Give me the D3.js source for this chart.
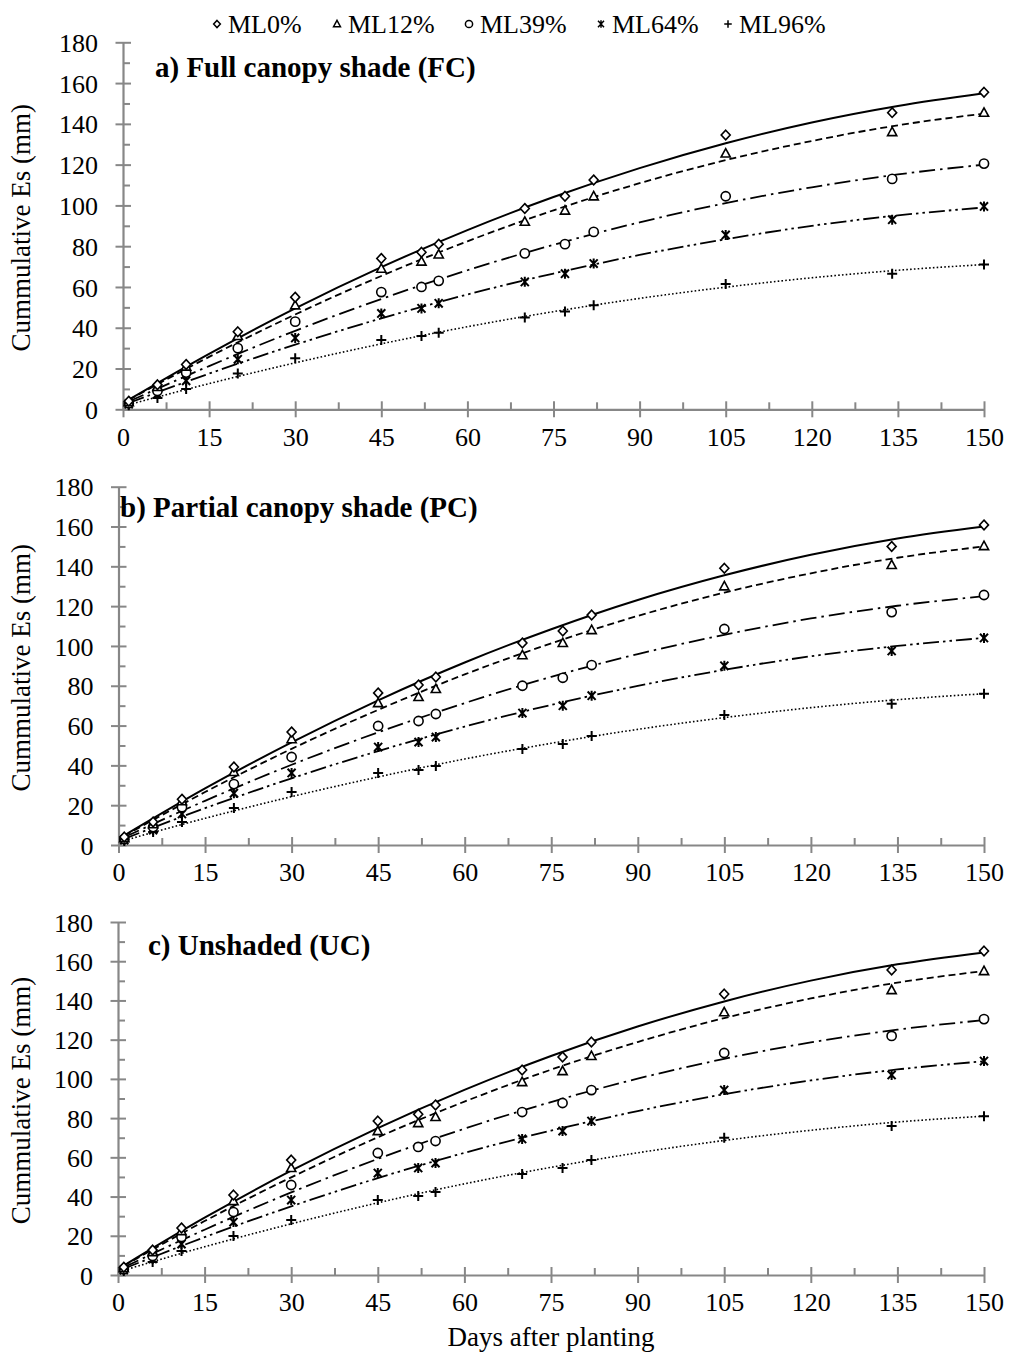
<!DOCTYPE html>
<html><head><meta charset="utf-8">
<script src="https://cdn.jsdelivr.net/npm/d3@7"></script>
<style>
body{margin:0;background:#fff;}
svg{display:block;}
text{font-family:"Liberation Serif","Times New Roman",serif;fill:#000;}
</style></head>
<body>
<script>
// ---------- data ----------
const seriesNames = ["ML0%", "ML12%", "ML39%", "ML64%", "ML96%"];
const obsDays = [1, 6, 11, 20, 30, 45, 52, 55, 70, 77, 82, 105, 134, 150];
const fitDays = [1, 15, 30, 45, 60, 75, 90, 105, 120, 135, 150];
const xTicks = [0, 15, 30, 45, 60, 75, 90, 105, 120, 135, 150];
const yTicks = [0, 20, 40, 60, 80, 100, 120, 140, 160, 180];
const panelTitles = ["a) Full canopy shade (FC)", "b) Partial canopy shade (PC)", "c) Unshaded (UC)"];

// observed values (mm) per series
const fcObs = [
  [4, 12, 22, 38, 55, 74, 77, 81, 98.5, 104.5, 112.5, 134.5, 145.5, 155.5],
  [3.5, 11, 21, 36, 51, 69, 72.5, 76, 92, 97.5, 104.5, 125.5, 136, 145.5],
  [3, 9, 18, 30, 43, 57.5, 60, 63, 76.5, 81, 87, 104.5, 113, 120.5],
  [2.5, 7.5, 14, 24.5, 35, 47, 49.5, 52, 62.5, 66.5, 71.5, 85.5, 93, 99.5],
  [2, 5.5, 10, 17.5, 25, 34, 36, 37.5, 45, 48, 51, 61.5, 66.5, 71]
];
const pcObs = [
  [4, 11.6, 23, 39.2, 56.8, 76.4, 80.4, 84.4, 101.5, 107.5, 115.5, 139, 150, 160.8],
  [3.5, 10.5, 22, 36.7, 53.2, 71.3, 74.4, 78.4, 95.4, 101.5, 108, 130, 140.7, 150.2],
  [3, 9, 19, 30.6, 44.2, 59.8, 62.3, 65.8, 80, 84, 90.4, 108.5, 117, 125.6],
  [2.5, 7.5, 15.6, 26, 36.2, 49.2, 51.7, 54.2, 66.3, 70, 75, 90, 97.5, 104],
  [2, 6.5, 11.6, 18.6, 26.6, 36.2, 37.7, 39.7, 48.2, 50.7, 54.8, 65.3, 71, 76]
];
const ucObs = [
  [4, 12.7, 24, 40.8, 58.6, 78.5, 82, 86.7, 104.5, 111.2, 118.8, 143.3, 155.5, 165.2],
  [3.5, 11.7, 22.4, 37.7, 54.6, 73.4, 77.5, 80.6, 98.4, 104, 111.7, 134, 145.3, 155],
  [3, 9.7, 19.4, 32.1, 45.9, 62.2, 65.3, 68.3, 83.1, 87.7, 94.3, 113.2, 121.9, 130.5],
  [2.5, 8.2, 15.8, 27, 38.2, 52, 54.6, 57.1, 69.4, 73.4, 78.5, 94.3, 102, 109.1],
  [2, 6.6, 12.2, 19.9, 28, 38.2, 40.3, 42.3, 51.5, 54.6, 58.6, 70, 76, 81]
];

// fitted trend lines (mm) read at fitDays
const fcFit = [
  [4.7, 27.2, 49.5, 69.7, 87.9, 104.1, 118.3, 130.5, 140.7, 148.8, 155],
  [4.6, 25.7, 46.5, 65.4, 82.4, 97.6, 110.9, 122.2, 131.6, 139.3, 145],
  [3.8, 21.2, 38.5, 54.1, 68.2, 80.7, 91.7, 101.1, 108.9, 115.2, 120],
  [3.1, 17.5, 31.7, 44.6, 56.3, 66.6, 75.7, 83.4, 90, 95.1, 99],
  [2.3, 12.6, 22.8, 32.1, 40.5, 47.9, 54.4, 59.9, 64.5, 68.2, 71]
];
const pcFit = [
  [4.8, 28.4, 51.6, 72.7, 91.7, 108.4, 123.1, 135.5, 145.8, 154, 160],
  [4.6, 26.6, 48.3, 67.9, 85.7, 101.3, 115.1, 126.8, 136.5, 144.3, 150],
  [3.9, 22.2, 40.3, 56.6, 71.3, 84.5, 95.9, 105.6, 113.8, 120.2, 125],
  [3.1, 18.5, 33.5, 47.2, 59.5, 70.4, 79.9, 88, 94.8, 100, 104],
  [2.3, 13.4, 24.3, 34.2, 43.2, 51.1, 58.1, 64, 69, 73, 76]
];
const ucFit = [
  [4.8, 29.2, 53.2, 74.9, 94.4, 111.7, 126.7, 139.5, 150.1, 158.4, 164.5],
  [4.7, 27.5, 49.8, 70.2, 88.4, 104.7, 118.8, 131, 141, 149.1, 155],
  [3.9, 23.1, 42.1, 59.2, 74.6, 88.2, 100.1, 110.2, 118.6, 125.1, 130],
  [3.2, 19.3, 35, 49.4, 62.3, 73.6, 83.6, 92.2, 99.2, 104.8, 109],
  [2.4, 14.4, 26.1, 36.8, 46.5, 54.9, 62.3, 68.6, 73.8, 78, 81]
];

// ---------- drawing ----------
const W = 1009, H = 1355;
const svg = d3.select("body").append("svg").attr("width", W).attr("height", H);
const axisColor = "#878787";

const layouts = [
  {x0: 123, x1: 984, yTop: 42.3, yBot: 409.3, tx: 155, ty: 77},
  {x0: 118.5, x1: 984, yTop: 486.7, yBot: 845, tx: 120, ty: 517},
  {x0: 118, x1: 984, yTop: 922, yBot: 1275, tx: 148, ty: 955}
];
const obsSets = [fcObs, pcObs, ucObs];
const fitSets = [fcFit, pcFit, ucFit];

const dashes = [null, "7,4", "16,5,2.5,5", "16,4,2.5,4,2.5,4", "1.6,2.2"];
const lineWidths = [2, 1.8, 1.8, 1.8, 1.6];

function markerPath(i) {
  switch (i) {
    case 0: return "M0,-4.8L4.5,0L0,4.8L-4.5,0Z";
    case 1: return "M0,-4.8L4.6,3.6L-4.6,3.6Z";
    case 3: return "M-4,-4.2L4,4.2M-4,4.2L4,-4.2M0,-5L0,5";
    case 4: return "M-5,0L5,0M0,-5L0,5";
  }
  return "";
}
function drawMarker(g, i, x, y) {
  if (i === 2) {
    g.append("circle").attr("cx", x).attr("cy", y).attr("r", 4.6)
      .attr("fill", "#fff").attr("stroke", "#000").attr("stroke-width", 1.6);
  } else {
    g.append("path").attr("d", markerPath(i)).attr("transform", `translate(${x},${y})`)
      .attr("fill", i < 2 ? "#fff" : "none").attr("stroke", "#000")
      .attr("stroke-width", i >= 3 ? 2 : 1.6);
  }
}

layouts.forEach((L, p) => {
  const x = d3.scaleLinear().domain([0, 150]).range([L.x0, L.x1]);
  const y = d3.scaleLinear().domain([0, 180]).range([L.yBot, L.yTop]);
  const g = svg.append("g");

  // y axis
  const yAx = g.append("g").attr("transform", `translate(${L.x0},0)`)
    .call(d3.axisLeft(y).tickValues(yTicks).tickSizeInner(7).tickSizeOuter(0).tickPadding(18));
  yAx.select(".domain").attr("stroke", axisColor).attr("stroke-width", 2.2);
  yAx.selectAll(".tick line").attr("stroke", axisColor).attr("stroke-width", 2).attr("x2", -7.5).attr("x1", 8);
  yAx.selectAll(".tick text").attr("font-size", 26).attr("font-family", "Liberation Serif").attr("fill", "#000").attr("dy", "0.35em");
  const yMinor = g.append("g").attr("transform", `translate(${L.x0},0)`)
    .call(d3.axisRight(y).tickValues(d3.range(10, 180, 20)).tickSize(7).tickFormat(""));
  yMinor.select(".domain").remove();
  yMinor.selectAll(".tick line").attr("stroke", axisColor).attr("stroke-width", 2);

  // x axis
  const xAx = g.append("g").attr("transform", `translate(0,${L.yBot})`)
    .call(d3.axisBottom(x).tickValues(xTicks).tickSizeInner(8).tickSizeOuter(0).tickPadding(10));
  xAx.select(".domain").attr("stroke", axisColor).attr("stroke-width", 2.2);
  xAx.selectAll(".tick line").attr("stroke", axisColor).attr("stroke-width", 2).attr("y1", -8);
  xAx.selectAll(".tick text").attr("font-size", 26).attr("font-family", "Liberation Serif").attr("fill", "#000");
  const xMinor = g.append("g").attr("transform", `translate(0,${L.yBot})`)
    .call(d3.axisTop(x).tickValues(d3.range(7.5, 150, 15)).tickSize(7).tickFormat(""));
  xMinor.select(".domain").remove();
  xMinor.selectAll(".tick line").attr("stroke", axisColor).attr("stroke-width", 2);

  // y axis title
  g.append("text")
    .attr("transform", `translate(30,${(L.yTop + L.yBot) / 2 + 2}) rotate(-90)`)
    .attr("text-anchor", "middle").attr("font-size", 27)
    .text("Cummulative Es (mm)");

  // panel title
  g.append("text").attr("x", L.tx).attr("y", L.ty)
    .attr("font-size", 29).attr("font-weight", "bold")
    .text(panelTitles[p]);

  // fitted lines
  const line = d3.line().x((d, j) => x(fitDays[j])).y(d => y(d)).curve(d3.curveMonotoneX);
  fitSets[p].forEach((vals, i) => {
    g.append("path").attr("d", line(vals)).attr("fill", "none").attr("stroke", "#000")
      .attr("stroke-width", lineWidths[i])
      .attr("stroke-dasharray", dashes[i]);
  });

  // observed markers (draw last series first so ML0 ends on top)
  for (let i = 4; i >= 0; i--) {
    obsSets[p][i].forEach((v, j) => drawMarker(g, i, x(obsDays[j]), y(v)));
  }
});

// x axis title
svg.append("text").attr("x", 551).attr("y", 1346).attr("text-anchor", "middle")
  .attr("font-size", 27).text("Days after planting");

// legend
const legX = [217, 337, 469, 601, 728];
const legend = svg.append("g");
seriesNames.forEach((n, i) => {
  const lg = legend.append("g");
  if (i === 2) {
    lg.append("circle").attr("cx", legX[i]).attr("cy", 24).attr("r", 3.6)
      .attr("fill", "#fff").attr("stroke", "#000").attr("stroke-width", 1.5);
  } else {
    lg.append("path").attr("d", markerPath(i)).attr("transform", `translate(${legX[i]},24) scale(0.75)`)
      .attr("fill", "none").attr("stroke", "#000").attr("stroke-width", 2);
  }
  lg.append("text").attr("x", legX[i] + 11).attr("y", 33).attr("font-size", 26).text(n);
});
</script>
</body></html>
